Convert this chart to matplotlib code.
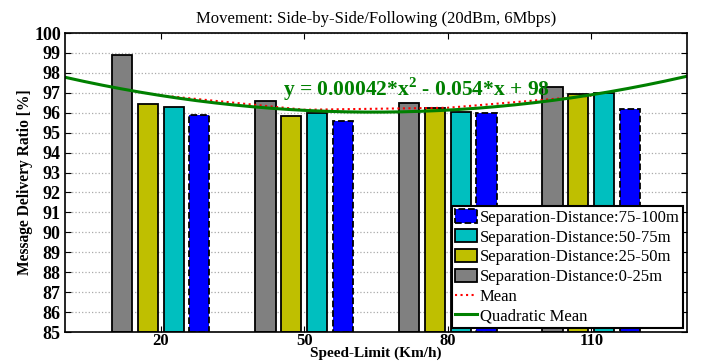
import numpy as np
import matplotlib
matplotlib.use("Agg")
import matplotlib.pyplot as plt
from matplotlib.patches import Patch
from matplotlib.lines import Line2D

plt.rcParams['font.family'] = ['Liberation Serif', 'DejaVu Serif']
plt.rcParams['mathtext.fontset'] = 'custom'
plt.rcParams['mathtext.rm'] = 'Liberation Serif'
plt.rcParams['mathtext.bf'] = 'Liberation Serif:bold'

# speed limits (km/h)
speeds = [20, 50, 80, 110]

# message delivery ratio [%] per separation distance
sep_0_25 = [98.88, 96.57, 96.47, 97.28]
sep_25_50 = [96.42, 95.84, 96.25, 96.94]
sep_50_75 = [96.30, 95.97, 96.05, 97.00]
sep_75_100 = [95.87, 95.59, 96.00, 96.20]

# mean line
mean_vals = [96.87, 96.15, 96.25, 96.85]

# quadratic fit coefficients (label shows rounded values)
quad_coef = [0.00042, -0.0542, 97.78]

labels = ['Separation-Distance:0-25m', 'Separation-Distance:25-50m',
          'Separation-Distance:50-75m', 'Separation-Distance:75-100m']
colors = ['#808080', '#BFBF00', '#00BFBF', '#0000FF']
series = [sep_0_25, sep_25_50, sep_50_75, sep_75_100]
offsets = [-8.1, -2.7, 2.7, 8.1]

fig = plt.figure(figsize=(7.02, 3.64), dpi=100)
ax = fig.add_axes([0.0926, 0.0879, 0.886, 0.8214])
ax.set_axisbelow(True)

x = np.array(speeds, dtype=float)
for vals, col, off in zip(series, colors, offsets):
    ls = '--' if col == '#0000FF' else '-'
    ax.bar(x + off, np.array(vals) - 85, bottom=85, width=4.2, color=col,
           edgecolor='black', linewidth=1.3, linestyle=ls)

ax.plot(speeds, mean_vals, color='red', linestyle=':', linewidth=1.5)
xs = np.linspace(0, 130, 200)
ax.plot(xs, np.polyval(quad_coef, xs), color='#008000', linewidth=2.2)

ax.text(73.4, 97.2, r'y = 0.00042*x$^\mathbf{2}$ - 0.054*x + 98', color='#008000',
        fontsize=15.5, fontweight='bold', ha='center', va='center')

ax.set_xlim(0, 130)
ax.set_ylim(85, 100)
ax.set_xticks(speeds)
ax.set_yticks(np.arange(85, 101, 1))
ax.tick_params(direction='in', top=True, right=True, length=4)
ax.tick_params(axis='x', pad=1, labelsize=12)
ax.tick_params(axis='y', pad=3, labelsize=13)
for t in ax.get_xticklabels() + ax.get_yticklabels():
    t.set_fontweight('bold')
ax.yaxis.grid(True, linestyle=':', color='#AAAAAA', linewidth=0.9)
for s in ax.spines.values():
    s.set_linewidth(1.2)

ax.set_title('Movement: Side-by-Side/Following (20dBm, 6Mbps)', fontsize=12, pad=7)
ax.set_xlabel('Speed-Limit (Km/h)', fontsize=11, fontweight='bold', labelpad=-2)
ax.set_ylabel('Message Delivery Ratio [%]', fontsize=11.2, fontweight='bold', labelpad=1)

handles = [
    Patch(facecolor='#0000FF', edgecolor='black', linestyle='--', linewidth=1.3),
    Patch(facecolor='#00BFBF', edgecolor='black', linewidth=1.3),
    Patch(facecolor='#BFBF00', edgecolor='black', linewidth=1.3),
    Patch(facecolor='#808080', edgecolor='black', linewidth=1.3),
    Line2D([], [], color='red', linestyle=':', linewidth=1.5),
    Line2D([], [], color='#008000', linewidth=2.2),
]
leg_labels = labels[::-1] + ['Mean', 'Quadratic Mean']
leg = ax.legend(handles, leg_labels, loc='lower right', fontsize=12, fancybox=False,
                framealpha=1, edgecolor='black', borderpad=0.2, labelspacing=0.2,
                handlelength=1.3, handleheight=0.85, handletextpad=0.15,
                borderaxespad=0.25)
leg.get_frame().set_linewidth(1.5)

fig.savefig('out.png', dpi=100)
